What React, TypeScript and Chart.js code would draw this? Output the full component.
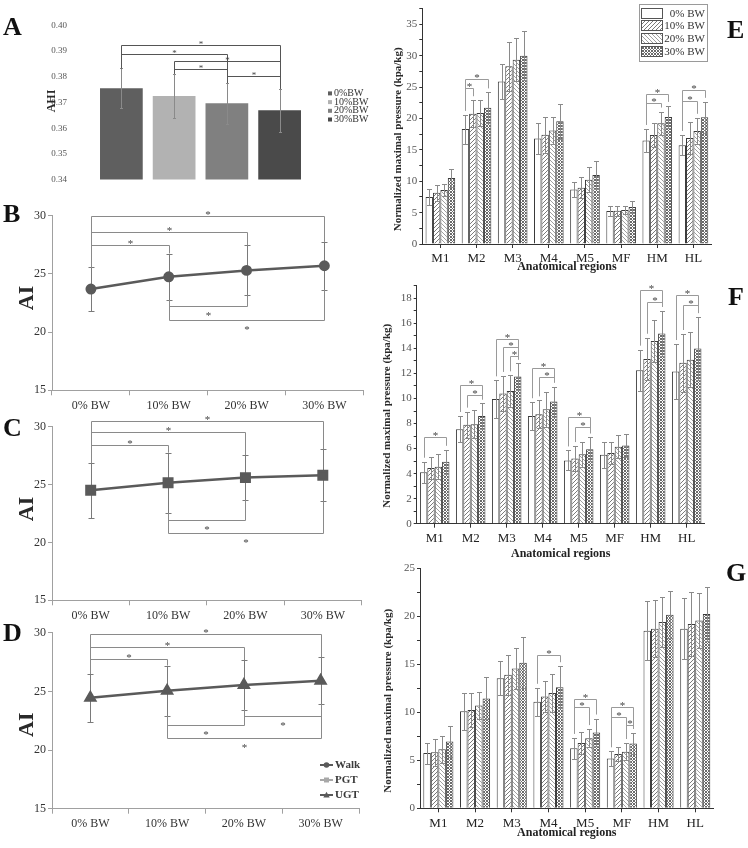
import React, { useEffect, useRef } from 'react';
import { Chart, registerables } from 'chart.js';

Chart.register(...registerables);

const SERIF = '"Liberation Serif", "Times New Roman", "DejaVu Serif", serif';
const DARK = '#5a5a5a';

// ---------------- data ----------------
const loadLevels = ['0% BW', '10% BW', '20% BW', '30% BW'];

// Panel A (AHI)
const ahiLegendLabels = ['0%BW', '10%BW', '20%BW', '30%BW'];
const ahiMean = [0.3755, 0.3725, 0.3697, 0.367];
const ahiSD = [0.0078, 0.0087, 0.0079, 0.0084];
const ahiColors = ['#5f5f5f', '#b2b2b2', '#808080', '#4a4a4a'];
const ahiBrackets = [[0, 3, 0.3925], [0, 2, 0.3888], [1, 3, 0.3862], [1, 2, 0.383], [2, 3, 0.3803]];

// Panel B (Walk)
const walkMean = [23.7, 24.75, 25.3, 25.7];
const walkSD = [1.85, 2.0, 2.15, 2.05];
const walkUp = [[0, 3, 30.0], [0, 2, 28.6], [0, 1, 27.45]];
const walkDown = [[1, 2, 22.2], [1, 3, 21.05]];

// Panel C (PGT)
const pgtMean = [24.5, 25.15, 25.6, 25.8];
const pgtSD = [2.35, 2.6, 1.95, 2.25];
const pgtUp = [[0, 3, 30.5], [0, 2, 29.5], [0, 1, 28.4]];
const pgtDown = [[1, 2, 21.95], [1, 3, 20.8]];

// Panel D (UGT)
const ugtMean = [24.45, 25.05, 25.55, 25.9];
const ugtSD = [2.05, 2.15, 2.1, 2.0];
const ugtUp = [[0, 3, 29.85], [0, 2, 28.75], [0, 1, 27.75]];
const ugtDown = [[1, 2, 22.15], [2, 3, 22.9], [1, 3, 21.0]];
const gaitLegendNames = ['Walk', 'PGT', 'UGT'];

// Panels E-G
const regions = ['M1', 'M2', 'M3', 'M4', 'M5', 'MF', 'HM', 'HL'];

const e0 = [7.5, 18.3, 25.9, 16.8, 8.7, 5.25, 16.5, 15.75];
const e10 = [8.15, 20.75, 28.3, 17.4, 8.95, 5.3, 17.35, 16.9];
const e20 = [8.6, 20.85, 29.35, 18.1, 10.25, 5.4, 19.25, 18.0];
const e30 = [10.5, 21.7, 30.0, 19.55, 11.0, 5.9, 20.25, 20.2];
const e0sd = [1.25, 2.3, 2.85, 2.5, 1.2, 0.85, 1.85, 1.65];
const e10sd = [1.3, 2.15, 3.95, 2.9, 1.7, 0.8, 1.95, 2.5];
const e20sd = [1.0, 2.1, 3.45, 2.2, 1.95, 0.7, 1.85, 2.1];
const e30sd = [1.45, 2.45, 3.95, 2.75, 2.25, 1.0, 1.75, 2.45];
const eBrackets = [[1, 0, 1, 24.85], [1, 0, 3, 26.3], [6, 0, 2, 22.4], [6, 0, 3, 23.9], [7, 0, 2, 22.85], [7, 0, 3, 24.5]];

const f0 = [4.1, 7.55, 9.95, 8.6, 5.05, 5.5, 12.25, 12.15];
const f10 = [4.45, 7.9, 10.4, 8.75, 5.2, 5.65, 13.15, 12.85];
const f20 = [4.55, 7.95, 10.6, 9.15, 5.55, 6.15, 14.6, 13.1];
const f30 = [4.95, 8.6, 11.75, 9.75, 5.95, 6.25, 15.2, 14.0];
const f0sd = [0.85, 1.05, 1.5, 1.1, 0.8, 1.05, 1.65, 2.2];
const f10sd = [0.9, 1.05, 1.4, 1.1, 1.0, 0.85, 1.7, 2.3];
const f20sd = [1.0, 1.1, 1.25, 1.4, 1.0, 0.9, 1.7, 2.2];
const f30sd = [0.95, 1.0, 1.05, 1.2, 0.95, 0.95, 1.8, 2.5];
const fBrackets = [
  [0, 0, 3, 6.9], [1, 0, 3, 11.1], [1, 1, 3, 10.3], [2, 0, 3, 14.75], [2, 1, 3, 14.08], [2, 2, 3, 13.4],
  [3, 0, 3, 12.4], [3, 1, 3, 11.7], [4, 0, 3, 8.5], [4, 1, 3, 7.75], [6, 0, 3, 18.66], [6, 1, 3, 17.73],
  [7, 0, 3, 18.24], [7, 1, 3, 17.47],
];

const g0 = [5.75, 10.1, 13.55, 11.1, 6.25, 5.2, 18.5, 18.7];
const g10 = [5.85, 10.25, 13.9, 11.65, 6.8, 5.65, 18.7, 19.2];
const g20 = [6.15, 10.7, 14.55, 12.0, 7.3, 5.9, 19.4, 19.55];
const g30 = [6.95, 11.45, 15.15, 12.6, 7.9, 6.75, 20.15, 20.25];
const g0sd = [1.1, 1.9, 1.8, 1.45, 1.1, 0.75, 3.1, 3.2];
const g10sd = [1.4, 1.8, 2.05, 1.6, 1.15, 0.75, 2.95, 3.3];
const g20sd = [1.4, 1.4, 2.1, 2.0, 0.95, 0.9, 2.65, 2.85];
const g30sd = [1.65, 2.2, 2.65, 2.2, 1.45, 1.1, 2.45, 2.8];
const gBrackets = [[3, 0, 3, 15.95], [4, 0, 3, 11.4], [4, 0, 2, 10.55], [5, 0, 3, 10.5], [5, 0, 2, 9.47], [5, 2, 3, 8.7]];

// ---------------- helpers ----------------
type Box = { x: number; y: number; w: number; h: number };
type Area = { l: number; t: number; r: number; b: number };
type Bracket = { a: [number, number]; b: [number, number]; v: number; below?: boolean };

const fixW = (w: number) => (s: any) => { s.width = w; };
const fixH = (h: number) => (s: any) => { s.height = h; };

function errorBars(sds: number[][], color: string, cap: number, under: boolean) {
  const draw = (chart: any) => {
    const { ctx } = chart;
    const ys = chart.scales.y;
    ctx.save();
    ctx.strokeStyle = color;
    ctx.lineWidth = 1;
    chart.data.datasets.forEach((ds: any, i: number) => {
      const sd = sds[i];
      if (!sd) return;
      chart.getDatasetMeta(i).data.forEach((el: any, j: number) => {
        const m = ds.data[j];
        const e = sd[j];
        if (m == null || e == null) return;
        const x = Math.round(el.x) + 0.5;
        const yt = Math.round(ys.getPixelForValue(m + e)) + 0.5;
        const yb = Math.round(ys.getPixelForValue(m - e)) + 0.5;
        ctx.beginPath();
        ctx.moveTo(x, yt); ctx.lineTo(x, yb);
        ctx.moveTo(x - cap, yt); ctx.lineTo(x + cap, yt);
        ctx.moveTo(x - cap, yb); ctx.lineTo(x + cap, yb);
        ctx.stroke();
      });
    });
    ctx.restore();
  };
  return under ? { id: 'errUnder', beforeDatasetsDraw: draw } : { id: 'errOver', afterDatasetsDraw: draw };
}

function brackets(items: Bracket[], sds: number[][], opt: { color: string; gap: number; size: number; star: string }) {
  return {
    id: 'brackets',
    afterDraw(chart: any) {
      const { ctx } = chart;
      const ys = chart.scales.y;
      const end = (p: [number, number]) => {
        const el = chart.getDatasetMeta(p[0]).data[p[1]];
        const m = chart.data.datasets[p[0]].data[p[1]];
        const e = sds[p[0]][p[1]];
        return { x: Math.round(el.x) + 0.5, top: ys.getPixelForValue(m + e), bot: ys.getPixelForValue(m - e) };
      };
      ctx.save();
      ctx.strokeStyle = opt.color;
      ctx.lineWidth = 1;
      ctx.fillStyle = opt.star;
      ctx.font = `${opt.size}px ${SERIF}`;
      ctx.textAlign = 'center';
      ctx.textBaseline = 'alphabetic';
      items.forEach((it) => {
        const A = end(it.a);
        const B = end(it.b);
        const ly = Math.round(ys.getPixelForValue(it.v)) + 0.5;
        ctx.beginPath();
        if (!it.below) {
          ctx.moveTo(A.x, A.top - opt.gap); ctx.lineTo(A.x, ly); ctx.lineTo(B.x, ly); ctx.lineTo(B.x, B.top - opt.gap);
        } else {
          ctx.moveTo(A.x, A.bot + opt.gap); ctx.lineTo(A.x, ly); ctx.lineTo(B.x, ly); ctx.lineTo(B.x, B.bot + opt.gap);
        }
        ctx.stroke();
        const mx = (A.x + B.x) / 2;
        ctx.fillText('*', mx, it.below ? ly + opt.size + 1 : ly + 1.5);
      });
      ctx.restore();
    },
  };
}

function sideTitle(text: string, size: number, dx: number, dy: number) {
  return {
    id: 'sideTitle',
    afterDraw(chart: any) {
      const { ctx, chartArea: a } = chart;
      ctx.save();
      ctx.translate(a.left - dx, (a.top + a.bottom) / 2 + dy);
      ctx.rotate(-Math.PI / 2);
      ctx.font = `bold ${size}px ${SERIF}`;
      ctx.fillStyle = '#2a2a2a';
      ctx.textAlign = 'center';
      ctx.textBaseline = 'middle';
      ctx.fillText(text, 0, 0);
      ctx.restore();
    },
  };
}

function hatch(kind: 'fwd' | 'back' | 'cross', color: string, s: number) {
  const c = document.createElement('canvas');
  c.width = s; c.height = s;
  const g = c.getContext('2d')!;
  g.fillStyle = '#ffffff';
  g.fillRect(0, 0, s, s);
  g.strokeStyle = color;
  g.lineWidth = 1;
  g.beginPath();
  if (kind !== 'back') {
    g.moveTo(0, s); g.lineTo(s, 0);
    g.moveTo(-1, 1); g.lineTo(1, -1);
    g.moveTo(s - 1, s + 1); g.lineTo(s + 1, s - 1);
  }
  if (kind !== 'fwd') {
    g.moveTo(0, 0); g.lineTo(s, s);
    g.moveTo(-1, s - 1); g.lineTo(1, s + 1);
    g.moveTo(s - 1, -1); g.lineTo(s + 1, 1);
  }
  g.stroke();
  return g.createPattern(c, 'repeat');
}

// ---------------- panel builders ----------------
function buildA(canvas: HTMLCanvasElement, box: Box, area: Area) {
  const items: Bracket[] = ahiBrackets.map(([p, q, v]) => ({ a: [p, 0], b: [q, 0], v }));
  const sds = ahiSD.map((s) => [s]);
  const legend = {
    id: 'ahiLegend',
    afterDraw(chart: any) {
      const { ctx, chartArea: a } = chart;
      ctx.save();
      ctx.font = `10px ${SERIF}`;
      ctx.textBaseline = 'middle';
      ctx.textAlign = 'left';
      chart.data.datasets.forEach((ds: any, i: number) => {
        const y = a.top + 68 + i * 8.7;
        ctx.fillStyle = ds.backgroundColor;
        ctx.fillRect(a.right + 22, y - 2, 4, 4);
        ctx.fillStyle = '#333';
        ctx.fillText(ds.label, a.right + 28, y);
      });
      ctx.restore();
    },
  };
  return new Chart(canvas, {
    type: 'bar',
    data: {
      labels: [''],
      datasets: ahiMean.map((m, i) => ({
        label: ahiLegendLabels[i],
        data: [m],
        backgroundColor: ahiColors[i],
        borderWidth: 0,
        barPercentage: 0.81,
        categoryPercentage: 1,
      })),
    },
    options: {
      animation: false,
      responsive: false,
      events: [],
      layout: { padding: { left: 0, top: area.t - box.y, right: box.x + box.w - area.r, bottom: box.y + box.h - area.b } },
      plugins: { legend: { display: false }, tooltip: { enabled: false } },
      scales: {
        x: { display: false },
        y: {
          min: 0.34,
          max: 0.4,
          afterFit: fixW(area.l - box.x),
          ticks: { stepSize: 0.01, color: '#555', font: { family: SERIF, size: 9 }, padding: 20 },
          grid: { display: false },
          border: { display: false },
        },
      },
    },
    plugins: [
      errorBars(sds, '#8a8a8a', 1.5, false),
      brackets(items, sds, { color: '#555', gap: 0, size: 9, star: '#444' }),
      sideTitle('AHI', 12, 43, -1.5),
      legend,
    ],
  } as any);
}

function buildLine(
  canvas: HTMLCanvasElement, box: Box, area: Area, mean: number[], sd: number[],
  up: number[][], down: number[][], pointStyle: string, radius: number, titleDy: number, withLegend: boolean,
) {
  const items: Bracket[] = [
    ...up.map(([p, q, v]) => ({ a: [0, p] as [number, number], b: [0, q] as [number, number], v })),
    ...down.map(([p, q, v]) => ({ a: [0, p] as [number, number], b: [0, q] as [number, number], v, below: true })),
  ];
  const plugins: any[] = [
    errorBars([sd], '#7a7a7a', 3, true),
    brackets(items, [sd], { color: '#8a8a8a', gap: 0, size: 11, star: '#444' }),
    sideTitle('AI', 22, 25, titleDy),
  ];
  if (withLegend) {
    const colors = ['#5a5a5a', '#a8a8a8', '#5a5a5a'];
    const shapes = ['circle', 'rect', 'triangle'];
    plugins.push({
      id: 'gaitLegend',
      afterDraw(chart: any) {
        const { ctx, chartArea: a } = chart;
        ctx.save();
        ctx.font = `bold 11px ${SERIF}`;
        ctx.textBaseline = 'middle';
        ctx.textAlign = 'left';
        gaitLegendNames.forEach((name, i) => {
          const y = a.bottom - 43.7 + i * 15;
          const x0 = a.right - 39;
          const xc = a.right - 32.5;
          ctx.strokeStyle = colors[i];
          ctx.fillStyle = colors[i];
          ctx.lineWidth = 2;
          ctx.beginPath(); ctx.moveTo(x0, y); ctx.lineTo(x0 + 13, y); ctx.stroke();
          ctx.beginPath();
          if (shapes[i] === 'circle') ctx.arc(xc, y, 2.8, 0, Math.PI * 2);
          else if (shapes[i] === 'rect') ctx.rect(xc - 2.5, y - 2.5, 5, 5);
          else { ctx.moveTo(xc, y - 3.2); ctx.lineTo(xc + 3.2, y + 2.5); ctx.lineTo(xc - 3.2, y + 2.5); ctx.closePath(); }
          ctx.fill();
          ctx.fillStyle = '#3a3a3a';
          ctx.fillText(name, a.right - 24, y);
        });
        ctx.restore();
      },
    });
  }
  return new Chart(canvas, {
    type: 'line',
    data: {
      labels: loadLevels,
      datasets: [{
        data: mean,
        borderColor: DARK,
        backgroundColor: DARK,
        borderWidth: 2.5,
        pointStyle,
        pointRadius: radius,
        pointBackgroundColor: DARK,
        pointBorderColor: DARK,
        tension: 0,
      }],
    },
    options: {
      animation: false,
      responsive: false,
      events: [],
      layout: { padding: { left: 0, top: area.t - box.y, right: box.x + box.w - area.r, bottom: 0 } },
      plugins: { legend: { display: false }, tooltip: { enabled: false } },
      scales: {
        x: {
          offset: true,
          afterFit: fixH(box.y + box.h - area.b),
          grid: { display: true, drawOnChartArea: false, offset: true, tickLength: 5, color: '#a0a0a0' },
          border: { color: '#a0a0a0' },
          ticks: { color: '#333', font: { family: SERIF, size: 12 }, padding: 3 },
        },
        y: {
          min: 15,
          max: 30,
          afterFit: fixW(area.l - box.x),
          ticks: { stepSize: 5, color: '#333', font: { family: SERIF, size: 12 }, padding: 2 },
          grid: { drawOnChartArea: false, tickLength: 4, color: '#a0a0a0' },
          border: { color: '#a0a0a0' },
        },
      },
    },
    plugins,
  } as any);
}

function buildBars(
  canvas: HTMLCanvasElement, box: Box, area: Area, series: number[][], sds: number[][], br: number[][],
  yMax: number, step: number, major: number, titleDx: number, titleDy: number, xTitleY: number, withLegend: boolean,
) {
  const fills = [
    '#ffffff',
    hatch('fwd', '#7a7a7a', 4),
    hatch('back', '#a0a0a0', 4),
    hatch('cross', '#6a6a6a', 3),
  ];
  const items: Bracket[] = br.map(([c, s1, s2, v]) => ({ a: [s1, c], b: [s2, c], v }));
  const plugins: any[] = [
    errorBars(sds, '#8a8a8a', 2.5, false),
    brackets(items, sds, { color: '#9a9a9a', gap: 4, size: 11, star: '#444' }),
    sideTitle('Normalized maximal pressure (kpa/kg)', 11, titleDx, titleDy),
  ];
  if (withLegend) {
    plugins.push({
      id: 'patLegend',
      afterDraw(chart: any) {
        const { ctx, chartArea: a } = chart;
        const right = a.right - 4.5;
        const left = right - 68;
        const top = a.top - 4.5;
        ctx.save();
        ctx.strokeStyle = '#9a9a9a';
        ctx.lineWidth = 1;
        ctx.strokeRect(Math.round(left) + 0.5, Math.round(top) + 0.5, 68, 57);
        ctx.font = `11px ${SERIF}`;
        ctx.textAlign = 'right';
        ctx.textBaseline = 'middle';
        chart.data.datasets.forEach((ds: any, i: number) => {
          const y = Math.round(top + 3.4 + i * 12.9) + 0.5;
          const x = Math.round(left + 2) + 0.5;
          ctx.fillStyle = ds.backgroundColor;
          ctx.fillRect(x, y, 21, 10);
          ctx.strokeStyle = '#555';
          ctx.strokeRect(x, y, 21, 10);
          ctx.fillStyle = '#333';
          ctx.fillText(ds.label, right - 2, y + 5.5);
        });
        ctx.restore();
      },
    });
  }
  return new Chart(canvas, {
    type: 'bar',
    data: {
      labels: regions,
      datasets: series.map((d, i) => ({
        label: loadLevels[i],
        data: d,
        backgroundColor: fills[i],
        borderColor: '#3a3a3a',
        borderWidth: 1,
        barPercentage: 1,
        categoryPercentage: 0.82,
      })),
    },
    options: {
      animation: false,
      responsive: false,
      events: [],
      layout: { padding: { left: 0, top: area.t - box.y, right: box.x + box.w - area.r, bottom: 0 } },
      plugins: { legend: { display: false }, tooltip: { enabled: false } },
      scales: {
        x: {
          offset: true,
          afterFit: fixH(box.y + box.h - area.b),
          grid: { display: true, drawOnChartArea: false, offset: false, tickLength: 4, color: '#333' },
          border: { color: '#333' },
          ticks: { color: '#222', font: { family: SERIF, size: 13 }, padding: 3 },
          title: {
            display: true,
            text: 'Anatomical regions',
            color: '#222',
            font: { family: SERIF, size: 12, weight: 'bold' },
            padding: { top: 0, bottom: box.y + box.h - xTitleY - 7.2 },
          },
        },
        y: {
          min: 0,
          max: yMax,
          afterFit: fixW(area.l - box.x),
          ticks: {
            stepSize: step,
            autoSkip: false,
            color: '#555',
            font: { family: SERIF, size: 11 },
            padding: 2,
            callback: (v: any) => (Math.abs(v / major - Math.round(v / major)) < 1e-6 ? String(v) : ''),
          },
          grid: { drawOnChartArea: false, tickLength: 3, color: '#333' },
          border: { color: '#333' },
        },
      },
    },
    plugins,
  } as any);
}

// ---------------- components ----------------
function Panel({ box, make }: { box: Box; make: (c: HTMLCanvasElement) => Chart }) {
  const ref = useRef<HTMLCanvasElement | null>(null);
  useEffect(() => {
    const chart = make(ref.current!);
    return () => chart.destroy();
  }, []);
  return (
    <canvas
      ref={ref}
      width={box.w}
      height={box.h}
      style={{ position: 'absolute', left: box.x, top: box.y, width: box.w, height: box.h }}
    />
  );
}

const letters = [
  { t: 'A', x: 3, base: 36 },
  { t: 'B', x: 3, base: 223 },
  { t: 'C', x: 3, base: 437 },
  { t: 'D', x: 3, base: 642 },
  { t: 'E', x: 727, base: 39 },
  { t: 'F', x: 728, base: 306 },
  { t: 'G', x: 726, base: 582 },
];

const boxA: Box = { x: 0, y: 0, w: 370, h: 205 };
const areaA: Area = { l: 95, t: 11, r: 306, b: 198 };
const boxB: Box = { x: 0, y: 200, w: 370, h: 215 };
const areaB: Area = { l: 52, t: 215.7, r: 368, b: 390.3 };
const boxC: Box = { x: 0, y: 405, w: 370, h: 220 };
const areaC: Area = { l: 52, t: 426.7, r: 368, b: 600.3 };
const boxD: Box = { x: 0, y: 615, w: 370, h: 233 };
const areaD: Area = { l: 52, t: 632.7, r: 359, b: 808.7 };
const boxE: Box = { x: 370, y: 0, w: 378, h: 280 };
const areaE: Area = { l: 422.3, t: 7.5, r: 711.5, b: 244 };
const boxF: Box = { x: 370, y: 270, w: 378, h: 292 };
const areaF: Area = { l: 416.7, t: 285.8, r: 704.7, b: 523.7 };
const boxG: Box = { x: 370, y: 555, w: 378, h: 293 };
const areaG: Area = { l: 420, t: 568.3, r: 713.6, b: 808.3 };

export default function App() {
  return (
    <div style={{ position: 'absolute', left: 0, top: 0, width: 748, height: 848, background: '#fff', overflow: 'hidden' }}>
      <Panel box={boxA} make={(c) => buildA(c, boxA, areaA)} />
      <Panel box={boxB} make={(c) => buildLine(c, boxB, areaB, walkMean, walkSD, walkUp, walkDown, 'circle', 4.2, -5, false)} />
      <Panel box={boxC} make={(c) => buildLine(c, boxC, areaC, pgtMean, pgtSD, pgtUp, pgtDown, 'rect', 6, -4.5, false)} />
      <Panel box={boxD} make={(c) => buildLine(c, boxD, areaD, ugtMean, ugtSD, ugtUp, ugtDown, 'triangle', 5.5, 4, true)} />
      <Panel
        box={boxE}
        make={(c) => buildBars(c, boxE, areaE, [e0, e10, e20, e30], [e0sd, e10sd, e20sd, e30sd], eBrackets, 37.5, 2.5, 5, 24, 13, 267, true)}
      />
      <Panel
        box={boxF}
        make={(c) => buildBars(c, boxF, areaF, [f0, f10, f20, f30], [f0sd, f10sd, f20sd, f30sd], fBrackets, 19, 1, 2, 30, 11, 554, false)}
      />
      <Panel
        box={boxG}
        make={(c) => buildBars(c, boxG, areaG, [g0, g10, g20, g30], [g0sd, g10sd, g20sd, g30sd], gBrackets, 25, 2.5, 5, 31.7, 12.5, 833, false)}
      />
      {letters.map((l) => (
        <div
          key={l.t}
          style={{
            position: 'absolute',
            left: l.x,
            top: l.base - 0.838 * 26,
            fontFamily: SERIF,
            fontWeight: 'bold',
            fontSize: 26,
            lineHeight: '26px',
            color: '#111',
          }}
        >
          {l.t}
        </div>
      ))}
    </div>
  );
}
